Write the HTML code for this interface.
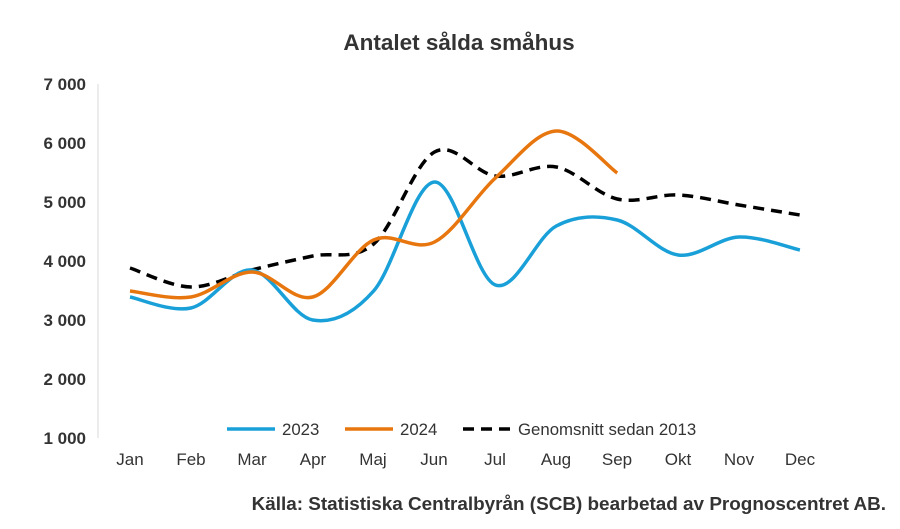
<!DOCTYPE html>
<html><head><meta charset="utf-8"><style>
body{margin:0;background:#fff;}
svg text{font-family:"Liberation Sans",Arial,sans-serif;}
</style></head><body>
<svg id="s" width="900" height="524" xmlns="http://www.w3.org/2000/svg">
<rect width="900" height="524" fill="#fff"/>
<text x="459" y="50" text-anchor="middle" font-size="22.5" font-weight="bold" fill="#333">Antalet sålda småhus</text>
<line x1="98" y1="84" x2="98" y2="438" stroke="#d9d9d9" stroke-width="1"/>
<g font-size="17" font-weight="bold" fill="#333" text-anchor="end">
<text x="86" y="90">7 000</text><text x="86" y="149">6 000</text><text x="86" y="208">5 000</text>
<text x="86" y="267">4 000</text><text x="86" y="326">3 000</text><text x="86" y="385">2 000</text><text x="86" y="444">1 000</text>
</g>
<g font-size="17" fill="#333" text-anchor="middle">
<text x="130" y="465">Jan</text><text x="191" y="465">Feb</text><text x="252" y="465">Mar</text><text x="313" y="465">Apr</text>
<text x="373" y="465">Maj</text><text x="434" y="465">Jun</text><text x="495" y="465">Jul</text><text x="556" y="465">Aug</text>
<text x="617" y="465">Sep</text><text x="678" y="465">Okt</text><text x="739" y="465">Nov</text><text x="800" y="465">Dec</text>
</g>
<path id="a" fill="none" stroke="#000" stroke-width="3.5" stroke-dasharray="11,7"/>
<path id="b" fill="none" stroke="#1aa0d8" stroke-width="3.5"/>
<path id="c" fill="none" stroke="#e8760e" stroke-width="3.5"/>
<line x1="227" y1="429" x2="275" y2="429" stroke="#1aa0d8" stroke-width="3.5"/>
<text x="282" y="435" font-size="16.8" fill="#333">2023</text>
<line x1="345" y1="429" x2="393" y2="429" stroke="#e8760e" stroke-width="3.5"/>
<text x="400" y="435" font-size="16.8" fill="#333">2024</text>
<line x1="463" y1="429" x2="511" y2="429" stroke="#000" stroke-width="3.5" stroke-dasharray="11,7"/>
<text x="518" y="435" font-size="16.8" fill="#333">Genomsnitt sedan 2013</text>
<text x="886" y="510" text-anchor="end" font-size="18.9" font-weight="bold" fill="#333">Källa: Statistiska Centralbyrån (SCB) bearbetad av Prognoscentret AB.</text>
</svg>
<script>
function path(ys){var p=ys.map(function(y,i){return [130+i*60.9,y];});
var d="M"+p[0][0]+","+p[0][1];
for(var i=0;i<p.length-1;i++){var p0=p[i-1]||p[i],p1=p[i],p2=p[i+1],p3=p[i+2]||p2;
var c1=[p1[0]+(p2[0]-p0[0])/6,p1[1]+(p2[1]-p0[1])/6],c2=[p2[0]-(p3[0]-p1[0])/6,p2[1]-(p3[1]-p1[1])/6];
d+=" C"+c1+" "+c2+" "+p2;}return d;}
document.getElementById("a").setAttribute("d",path([268,287,270,256,244,152,176,167,199,195,205,215]));
document.getElementById("b").setAttribute("d",path([297,308,270,320,291,182,285,226,220,255,237,250]));
document.getElementById("c").setAttribute("d",path([291,297,272,297,240,242,178,131,173]));
</script>
</body></html>
